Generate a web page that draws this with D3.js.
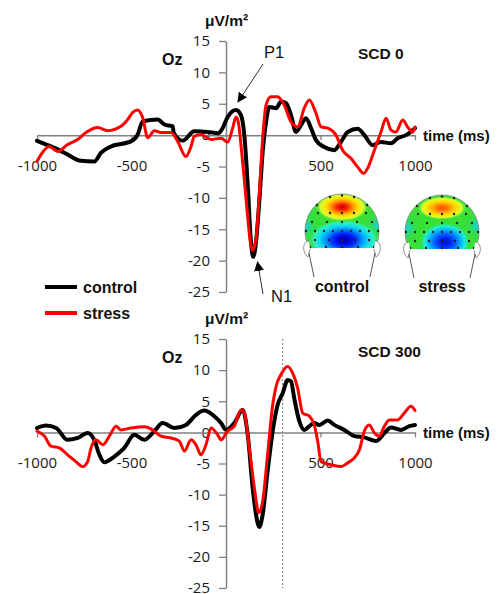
<!DOCTYPE html>
<html>
<head>
<meta charset="utf-8">
<script src="https://cdn.jsdelivr.net/npm/d3@7"></script>
<style>
  body { margin: 0; background: #fff; }
  svg { display: block; }
  .tick text { font-family: "Open Sans", sans-serif; font-size: 15px; fill: #1a1a1a; }
  .bold { font-family: "Liberation Sans", Arial, sans-serif; font-weight: bold; fill: #111; }
  .plain { font-family: "Liberation Sans", Arial, sans-serif; fill: #111; }
</style>
</head>
<body>
<svg width="498" height="594"></svg>
<script>
// data (ms, uV/m2)
var timeCtrl0 = [-1000,-926,-855,-767,-697,-661,-608,-503,-467,-441,-362,-326,-282,-277,-229,-168,-97,-40,-20,9,53,79,97,115,132,144,159,176,194,212,229,265,291,317,344,370,397,423,450,476,520,573,608,644,697,732,776,820,873,908,952,1000];
var ctrl0 = [-0.9,-1.8,-2.8,-4.1,-4.2,-2.8,-1.8,-1.0,0.1,2.2,2.5,1.7,1.4,0.4,-0.9,0.6,0.5,0.3,1.0,2.9,4.0,3.2,0,-8,-17,-19.4,-17,-10.6,-2.7,2.1,4.5,4.3,5.3,5.1,3.2,0.5,1.6,2.7,1.1,-0.8,-1.9,-2.4,-1.1,0.5,1.0,0,-1.6,-1.1,-1.3,-0.5,0,1.1];

var timeStress0 = [-1000,-979,-935,-891,-838,-785,-741,-679,-626,-556,-520,-494,-467,-441,-414,-379,-344,-291,-256,-212,-185,-168,-132,-79,-26,9,35,53,65,83,106,129,141,159,176,194,212,238,273,308,344,379,414,441,476,503,538,582,617,661,697,728,749,785,820,847,873,899,935,961,988,1000];
var stress0 = [-4.2,-3.1,-1.8,-2.6,-1.5,-0.7,0.4,1.2,0.7,1.4,2.5,3.6,4.0,2.8,-0.4,0.7,0.4,0.4,-1.0,-3.4,-1.8,-0.2,0.1,-0.7,-0.5,-1.1,1.1,2.9,2.1,-2.7,-10.1,-17,-18.4,-16.5,-9.6,-0.5,4.8,6.1,6.1,4.8,2.1,1.3,4.3,5.6,3.5,1.3,1.1,0,-2.4,-3.7,-5.1,-6.1,-5.3,-2.4,0.5,2.7,0.8,0.5,2.4,1.3,0.5,1.3];

var timeCtrl300 = [-1000,-952,-899,-838,-785,-732,-697,-670,-644,-591,-538,-485,-432,-379,-335,-273,-212,-159,-115,-62,-26,0,44,88,115,141,159,176,194,220,247,273,300,326,344,361,388,414,441,467,494,538,573,626,679,732,794,838,873,926,970,1000];
var ctrl300 = [0.7,1.1,0.7,-1.2,-0.9,-0.1,-1.2,-3.6,-4.8,-3.9,-2.5,-0.4,-1.2,0.2,1.5,0.7,1.2,2.8,3.5,2.6,1.5,0.4,1.5,3.6,-0.4,-8.9,-13.2,-15.2,-13.2,-6.3,0.2,4.4,6.3,8.4,8.2,5.5,1.8,0.4,1.0,1.5,1.2,1.9,1.2,0.4,-0.6,-0.8,-1.4,-0.1,0.8,0.4,1.0,1.2];

var timeStress300 = [-1000,-961,-926,-882,-838,-794,-758,-732,-714,-688,-652,-617,-582,-556,-503,-432,-388,-344,-291,-247,-220,-185,-159,-132,-106,-79,-44,-26,9,44,79,97,123,150,173,194,220,247,265,291,326,353,379,406,441,467,485,503,556,608,644,679,706,732,758,785,811,838,864,908,943,979,1000];
var stress300 = [0.2,-0.6,-2.2,-2.5,-3.6,-4.7,-5.5,-4.7,-2.5,-1.2,-2.0,-0.6,1.0,0.4,0.7,0.9,0.4,-0.6,-0.9,-1.4,-3.0,-1.2,-2.0,-3.6,-2.0,0.7,-0.4,-1.2,0.2,1.0,3.6,3.1,-2.5,-8.9,-12.9,-11.1,-3.6,4.4,7.4,9.3,10.6,9.5,7.1,3.1,2.6,1.2,-1.4,-4.7,-5.2,-5.5,-4.9,-4.1,-2.8,0.2,1.2,-0.1,-0.6,1.0,2.0,2.0,3.1,4.2,3.5];

var yTicks = [15, 10, 5, 0, -5, -10, -15, -20, -25];
var xTicks = [-1000, -500, 500, 1000];
var groups = ["control", "stress"];
var colors = ["#000000", "#ff0000"];

var svg = d3.select("svg");

var x = d3.scaleLinear().domain([-1000, 1000]).range([37, 415]);

function zip(t, v) {
  return t.map(function(d, i) { return [d, v[i]]; });
}

function drawPanel(top, bottom, series, title, marker) {
  var y = d3.scaleLinear().domain([-25, 15]).range([bottom, top]);
  var g = svg.append("g");

  // y axis
  var ya = g.append("g")
    .attr("transform", "translate(" + x(0) + ",0)")
    .call(d3.axisLeft(y).tickValues(yTicks).tickSize(7).tickSizeOuter(0).tickPadding(9).tickFormat(String));
  ya.select(".domain").attr("stroke", "#808080").attr("stroke-width", 1.5);
  ya.selectAll(".tick line").attr("stroke", "#808080").attr("stroke-width", 1.3);

  // x axis on the zero line
  var xa = g.append("g")
    .attr("transform", "translate(0," + y(0) + ")")
    .call(d3.axisBottom(x).tickValues(xTicks).tickSize(5).tickSizeOuter(0).tickPadding(20).tickFormat(String));
  xa.select(".domain").attr("stroke", "#808080").attr("stroke-width", 1.5);
  xa.selectAll(".tick line").attr("stroke", "#808080").attr("stroke-width", 1.3);

  if (marker != null) {
    g.append("line")
      .attr("x1", x(marker)).attr("x2", x(marker))
      .attr("y1", y(15)).attr("y2", y(-25))
      .attr("stroke", "#777").attr("stroke-width", 1)
      .attr("stroke-dasharray", "2,2");
  }

  var line = d3.line()
    .x(function(d) { return x(d[0]); })
    .y(function(d) { return y(d[1]); })
    .curve(d3.curveMonotoneX);

  g.selectAll(".wave")
    .data(series)
    .enter().append("path")
    .attr("class", "wave")
    .attr("d", function(d) { return line(d.values); })
    .attr("fill", "none")
    .attr("stroke", function(d) { return d.color; })
    .attr("stroke-width", function(d, i) { return i == 0 ? 4 : 3; })
    .attr("stroke-linejoin", "round")
    .attr("stroke-linecap", "round");

  g.append("text").attr("class", "bold").attr("x", 205).attr("y", top - 15)
    .attr("font-size", 15.5).text("μV/m²");
  g.append("text").attr("class", "plain").attr("x", 162).attr("y", top + 24)
    .attr("font-size", 16).attr("font-weight", 600).text("Oz");
  g.append("text").attr("class", "bold").attr("x", 358).attr("y", top + 18)
    .attr("font-size", 15.5).text(title);
  g.append("text").attr("class", "bold").attr("x", 423).attr("y", y(0) + 6)
    .attr("font-size", 15).text("time (ms)");

  return y;
}

drawPanel(41, 292, [
  { name: groups[0], color: colors[0], values: zip(timeCtrl0, ctrl0) },
  { name: groups[1], color: colors[1], values: zip(timeStress0, stress0) }
], "SCD 0", null);

drawPanel(339, 588, [
  { name: groups[0], color: colors[0], values: zip(timeCtrl300, ctrl300) },
  { name: groups[1], color: colors[1], values: zip(timeStress300, stress300) }
], "SCD 300", 300);

// arrows and peak labels
var defs = svg.append("defs");
defs.append("marker")
  .attr("id", "arrow")
  .attr("viewBox", "0 0 10 10")
  .attr("refX", 9).attr("refY", 5)
  .attr("markerWidth", 10).attr("markerHeight", 10)
  .attr("markerUnits", "userSpaceOnUse")
  .attr("orient", "auto")
  .append("path").attr("d", "M0,0L10,5L0,10Z").attr("fill", "#000");

svg.append("line").attr("x1", 263).attr("y1", 64).attr("x2", 238).attr("y2", 102)
  .attr("stroke", "#333").attr("stroke-width", 1).attr("marker-end", "url(#arrow)");
svg.append("text").attr("class", "plain").attr("x", 264).attr("y", 58).attr("font-size", 16.5).text("P1");

svg.append("line").attr("x1", 263).attr("y1", 294).attr("x2", 257.5).attr("y2", 262)
  .attr("stroke", "#333").attr("stroke-width", 1).attr("marker-end", "url(#arrow)");
svg.append("text").attr("class", "plain").attr("x", 271).attr("y", 302).attr("font-size", 16.5).text("N1");

// legend
var legend = svg.append("g");
groups.forEach(function(name, i) {
  var ly = 287 + i * 26;
  legend.append("line").attr("x1", 45).attr("x2", 77).attr("y1", ly).attr("y2", ly)
    .attr("stroke", colors[i]).attr("stroke-width", 4);
  legend.append("text").attr("class", "bold").attr("x", 83).attr("y", ly + 5.5)
    .attr("font-size", 16).text(name);
});

// scalp maps
var heads = [
  { name: "control", cx: 342, cy: 231,
    pos: { x: 0, y: -24, rx: 27, ry: 15, stops: ["#c00000", "#ff2000", "#ff9000", "#ffe000", "#d8ff30"] },
    neg: { x: 2, y: 9, rx: 36, ry: 21, stops: ["#0000b8", "#0008d8", "#0030ff", "#0090ff", "#10d8f0", "#30f0c0"] },
    side: 0.9 },
  { name: "stress", cx: 442, cy: 232,
    pos: { x: 0, y: -24, rx: 25, ry: 12, stops: ["#ff5000", "#ff7000", "#ffb000", "#ffe000", "#d8ff30"] },
    neg: { x: 3, y: 10, rx: 26, ry: 20, stops: ["#0010d0", "#0020f0", "#0060ff", "#00b0ff", "#20f0d0"] },
    side: 1 }
];
var electrodes = [
  [-25,-26],[-12,-34],[0,-35.5],[12,-34],[25,-26],
  [-24,-18],[-12,-18],[0,-18],[12,-18],[24,-18],
  [-30,-9],[-15,-9],[0,-9],[15,-9],[30,-9],
  [-36,0],[-27,0],[-18,0],[-9,0],[0,0],[9,0],[18,0],[27,0],[36,0],
  [-27,9],[-13,9],[0,9],[13,9],[27,9],
  [-32,16],[-16,16],[0,16],[16,16],[32,16]
];
var R = 37;

heads.forEach(function(h, k) {
  var g = svg.append("g").attr("transform", "translate(" + h.cx + "," + h.cy + ")");
  var clipId = "clip" + k;
  var half = Math.sqrt(R * R - 17 * 17);
  var dome = "M" + (-half) + ",17 A" + R + "," + R + " 0 1 1 " + half + ",17";
  defs.append("clipPath").attr("id", clipId).append("path").attr("d", dome + " Z");

  function blob(id, b) {
    var grad = defs.append("radialGradient").attr("id", id);
    b.stops.forEach(function(c, i) {
      grad.append("stop").attr("offset", i / b.stops.length).attr("stop-color", c);
    });
    grad.append("stop").attr("offset", 1).attr("stop-color", "#30e030").attr("stop-opacity", 0);
  }
  blob("pos" + k, h.pos);
  blob("neg" + k, h.neg);
  var sideGrad = defs.append("radialGradient").attr("id", "side" + k);
  sideGrad.append("stop").attr("offset", 0).attr("stop-color", "#10d0f0").attr("stop-opacity", h.side);
  sideGrad.append("stop").attr("offset", 1).attr("stop-color", "#30e030").attr("stop-opacity", 0);

  var m = g.append("g").attr("clip-path", "url(#" + clipId + ")");
  m.append("rect").attr("x", -R).attr("y", -R).attr("width", 2 * R).attr("height", R + 17).attr("fill", "#38e038");
  m.append("ellipse").attr("cx", -R + 2).attr("cy", -4).attr("rx", 12).attr("ry", 14).attr("fill", "url(#side" + k + ")");
  m.append("ellipse").attr("cx", R - 2).attr("cy", -6).attr("rx", 12).attr("ry", 14).attr("fill", "url(#side" + k + ")");
  m.append("ellipse").attr("cx", h.pos.x).attr("cy", h.pos.y).attr("rx", h.pos.rx).attr("ry", h.pos.ry).attr("fill", "url(#pos" + k + ")");
  m.append("ellipse").attr("cx", h.neg.x).attr("cy", h.neg.y).attr("rx", h.neg.rx).attr("ry", h.neg.ry).attr("fill", "url(#neg" + k + ")");

  g.append("path").attr("d", dome)
    .attr("fill", "none").attr("stroke", "#888").attr("stroke-width", 0.8);

  g.selectAll(".el").data(electrodes).enter().append("circle")
    .attr("cx", function(d) { return d[0]; }).attr("cy", function(d) { return d[1]; })
    .attr("r", 1.2).attr("fill", "#222");

  // ears and neck
  [-1, 1].forEach(function(s) {
    g.append("path")
      .attr("d", "M" + (s * 33) + ",10 C" + (s * 40) + ",10 " + (s * 40) + ",22 " + (s * 34) + ",26 L" + (s * 32) + ",18")
      .attr("fill", "#fff").attr("stroke", "#777").attr("stroke-width", 0.8);
    g.append("line")
      .attr("x1", s * 33).attr("y1", 22).attr("x2", s * 28).attr("y2", 46)
      .attr("stroke", "#555").attr("stroke-width", 1);
  });

  svg.append("text").attr("class", "bold").attr("x", h.cx).attr("y", 291.5)
    .attr("text-anchor", "middle").attr("font-size", 16).text(h.name);
});
</script>
</body>
</html>
